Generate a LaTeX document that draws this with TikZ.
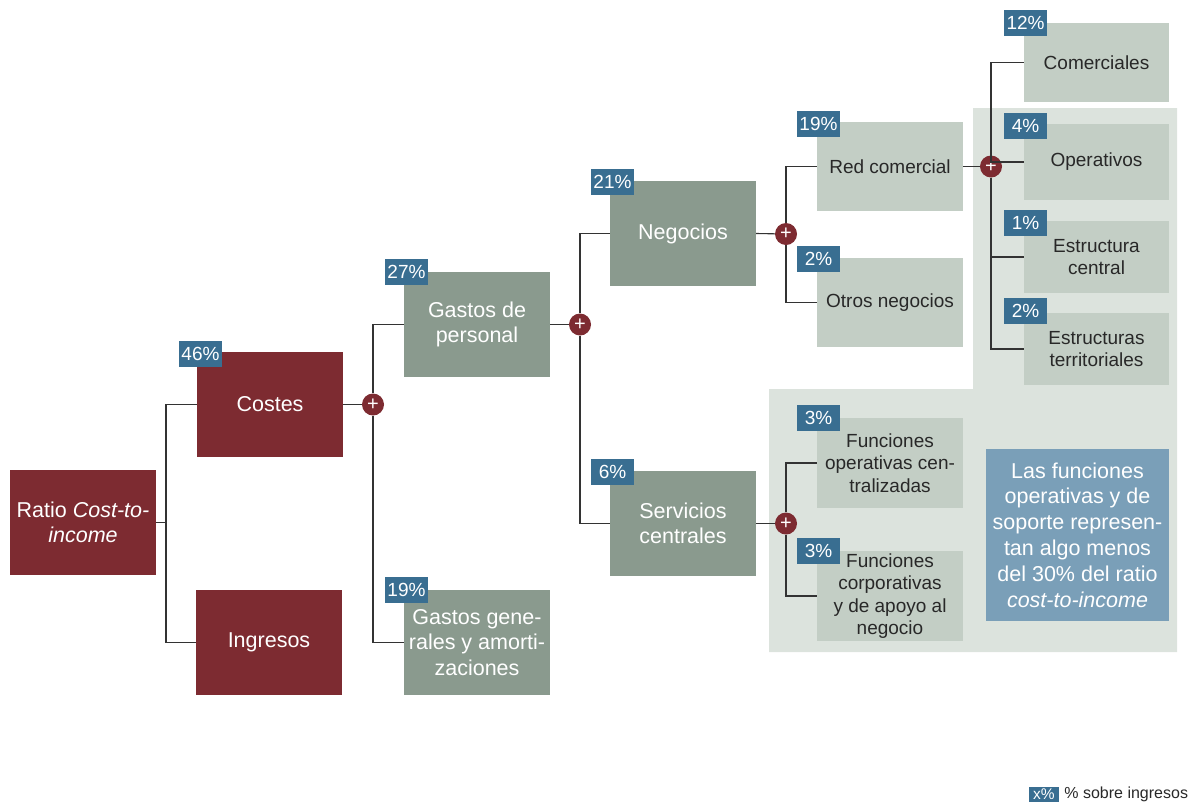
\documentclass[tikz,border=0pt]{standalone}
\usepackage{fontspec}
\setmainfont{Liberation Sans}
\definecolor{costred}{RGB}{125,43,49}
\definecolor{midgreen}{RGB}{138,154,142}
\definecolor{lightgreen}{RGB}{195,206,197}
\definecolor{panelgreen}{RGB}{220,227,221}
\definecolor{pctblue}{RGB}{57,110,145}
\definecolor{noteblue}{RGB}{122,159,184}
\definecolor{darktext}{RGB}{40,40,40}
\begin{document}
\begin{tikzpicture}[x=1pt,y=-1pt,
    redbox/.style={fill=costred, text=white, minimum width=146pt, minimum height=105pt,
      inner sep=0pt, align=center, font=\fontsize{21.5}{25.5}\selectfont},
    midbox/.style={redbox, fill=midgreen},
    lightbox/.style={fill=lightgreen, text=darktext, minimum width=146pt, minimum height=89pt,
      inner sep=0pt, align=center, font=\fontsize{19}{22.5}\selectfont},
    pct/.style={fill=pctblue, text=white, minimum width=43pt, minimum height=26pt,
      inner sep=0pt, font=\fontsize{19}{19}\selectfont},
    plus/.style={circle, fill=costred, text=white, minimum size=22pt, inner sep=0pt,
      font=\fontsize{20}{20}\selectfont},
    link/.style={line width=1.1pt, draw=black!80}]
        \useasboundingbox (0,0) rectangle (1193,801);
        \fill [panelgreen] (973,108) -- (1177,108) -- (1177,652) -- (769,652) -- (769,389) -- (973,389) -- cycle;

        % level 0 and 1
        \node [redbox] (ratio) at (83,522.5) {Ratio \textit{Cost-to-}\\\textit{income}};
        \node [redbox] (costes) at (270,404.5) {Costes};
        \node [redbox] (ingresos) at (269,642.5) {Ingresos};

        % level 2
        \node [midbox] (gp) at (477,324.5) {Gastos de\\personal};
        \node [midbox] (gg) at (477,642.5) {Gastos gene-\\rales y amorti-\\zaciones};

        % level 3
        \node [midbox] (neg) at (683,233.5) {Negocios};
        \node [midbox] (serv) at (683,523.5) {Servicios\\centrales};

        % level 4
        \node [lightbox] (red) at (890,166.5) {Red comercial};
        \node [lightbox] (otros) at (890,302.5) {Otros negocios};
        \node [lightbox, minimum height=90pt] (foc) at (890,463) {Funciones\\operativas cen-\\tralizadas};
        \node [lightbox, minimum height=90pt] (fca) at (890,596) {Funciones\\corporativas\\y de apoyo al\\negocio};

        % level 5
        \node [lightbox, minimum width=145pt, minimum height=79pt] (com) at (1096.5,62.5) {Comerciales};
        \node [lightbox, minimum width=145pt, minimum height=76pt] (oper) at (1096.5,162) {Operativos};
        \node [lightbox, minimum width=145pt, minimum height=72pt] (ec) at (1096.5,257) {Estructura\\central};
        \node [lightbox, minimum width=145pt, minimum height=72pt] (et) at (1096.5,349) {Estructuras\\territoriales};

        \node [fill=noteblue, text=white, minimum width=183pt, minimum height=172pt, inner sep=0pt,
          align=center, font=\fontsize{21.5}{25.8}\selectfont] (note) at (1077.5,535)
          {Las funciones\\operativas y de\\soporte represen-\\tan algo menos\\del 30\% del ratio\\\textit{cost-to-income}};

        % plus signs
        \node [plus] (p1) at (373,404.5) {+};
        \node [plus] (p2) at (580,324.5) {+};
        \node [plus] (p3) at (786,234) {+};
        \node [plus] (p4) at (991,166.5) {+};
        \node [plus] (p5) at (786,523.5) {+};

        % connectors
        \coordinate (b0) at (166,522.5);
        \draw [link] (ratio.east) -- (b0) |- (costes.west);
        \draw [link] (b0) |- (ingresos.west);
        \draw [link] (costes.east) -- (p1);
        \draw [link] (p1) |- (gp.west);
        \draw [link] (p1) |- (gg.west);
        \draw [link] (gp.east) -- (p2);
        \draw [link] (p2) |- (neg.west);
        \draw [link] (p2) |- (serv.west);
        \draw [link] (neg.east) -- (p3);
        \draw [link] (p3) |- (red.west);
        \draw [link] (p3) |- (otros.west);
        \draw [link] (serv.east) -- (p5);
        \draw [link] (p5) |- (foc.west);
        \draw [link] (p5) |- (fca.west);
        \draw [link] (red.east) -- (p4);
        \draw [link] (p4) |- (com.west);
        \draw [link] (p4) |- (oper.west);
        \draw [link] (p4) |- (ec.west);
        \draw [link] (p4) |- (et.west);

        % percentages
        \node [pct] (l1) at (200.5,353.5) {46\%};
        \node [pct] (l2) at (406.5,272) {27\%};
        \node [pct] (l3) at (406.5,590) {19\%};
        \node [pct] (l4) at (612.5,182) {21\%};
        \node [pct] (l5) at (612.5,472) {6\%};
        \node [pct] (l6) at (818.5,123.5) {19\%};
        \node [pct] (l7) at (818.5,259) {2\%};
        \node [pct] (l8) at (818.5,417.5) {3\%};
        \node [pct] (l9) at (818.5,551) {3\%};
        \node [pct] (l10) at (1025.5,23) {12\%};
        \node [pct] (l11) at (1025.5,125.5) {4\%};
        \node [pct] (l12) at (1025.5,222.5) {1\%};
        \node [pct] (l13) at (1025.5,310.5) {2\%};

        % legend
        \node [pct, minimum width=30pt, minimum height=15pt, font=\fontsize{15.5}{15.5}\selectfont] (key) at (1044,794) {x\%};
        \node [anchor=west, text=darktext, inner sep=0pt, font=\fontsize{16}{16}\selectfont] (keytext) at ([xshift=5pt]key.east) {\% sobre ingresos};
      \end{tikzpicture}
\end{document}
